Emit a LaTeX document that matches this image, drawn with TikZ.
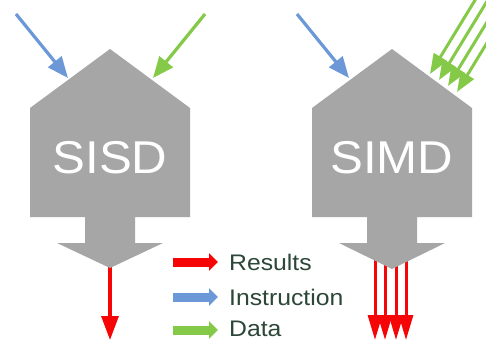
\documentclass[tikz,border=0pt]{standalone}
\usepackage{fontspec}
\setmainfont{Liberation Sans}
\usetikzlibrary{arrows.meta}
\definecolor{boxgray}{RGB}{166,166,166}
\definecolor{arrred}{RGB}{245,5,5}
\definecolor{arrblue}{RGB}{108,152,216}
\definecolor{arrgreen}{RGB}{132,202,72}
\definecolor{legtext}{RGB}{44,70,56}
\begin{document}
\begin{tikzpicture}[x=1pt,y=-1pt,
  proc/.style={fill=boxgray,draw=none},
  thin arrow/.style={line width=3.2pt,-{Triangle[width=17pt,length=21pt]}},
  out arrow/.style={line width=3.2pt,arrred,-{Triangle[width=17pt,length=24pt]}},
  multi out/.style={line width=3pt,arrred,-{Triangle[width=14pt,length=25pt]}},
  multi in/.style={line width=3pt,arrgreen,-{Triangle[width=15pt,length=20pt]}},
  leg arrow/.style={line width=9pt,-{Triangle[width=17pt,length=9pt]}},
  leg text/.style={text=legtext,font=\fontsize{22.5}{22.5}\selectfont,anchor=base west,inner sep=0pt},
  big label/.style={text=white,font=\fontsize{46}{46}\selectfont,inner sep=0pt}]
\useasboundingbox (0,0) rectangle (486,342);
\fill[white] (0,0) rectangle (486,342);
\begin{scope}
\clip (0,0) rectangle (486,342);
% red output arrows (drawn below the gray shapes)
\coordinate (r0a) at (110,255); \coordinate (r0b) at (110,340);
\draw[out arrow] (r0a) -- (r0b);
\foreach \x [count=\i] in {375,385,396,406}{
  \coordinate (ra\i) at (\x,250); \coordinate (rb\i) at (\x,340);
  \draw[multi out] (ra\i) -- (rb\i);
}
% SISD shape
\fill[proc] (110,49) -- (190,108) -- (190,217) -- (135,217) -- (135,243) -- (163,243)
  -- (110,268) -- (57,243) -- (85,243) -- (85,217) -- (30,217) -- (30,108) -- cycle;
% SIMD shape
\fill[proc] (392,49) -- (472,108) -- (472,217) -- (417,217) -- (417,243) -- (445,243)
  -- (392,269) -- (339,243) -- (367,243) -- (367,217) -- (312,217) -- (312,108) -- cycle;
\node[big label] (sisd) at (110,158) {\scalebox{1.07}[1]{SISD}};
\node[big label] (simd) at (392,158) {\scalebox{1.07}[1]{SIMD}};
% input arrows
\coordinate (b1s) at (16,14); \coordinate (b1e) at (68,78);
\draw[thin arrow,arrblue] (b1s) -- (b1e);
\coordinate (g1s) at (205,14); \coordinate (g1e) at (153,78);
\draw[thin arrow,arrgreen] (g1s) -- (g1e);
\coordinate (b2s) at (297,14); \coordinate (b2e) at (349,78);
\draw[thin arrow,arrblue] (b2s) -- (b2e);
\foreach \tx/\ty [count=\i] in {430/74,439/80,448/86,457/92}{
  \coordinate (ge\i) at (\tx,\ty);
  \coordinate (gs\i) at (\tx+50,\ty-82);
  \draw[multi in] (gs\i) -- (ge\i);
}
\end{scope}
% legend
\coordinate (l1a) at (173,262); \coordinate (l1b) at (218,262);
\draw[leg arrow,arrred] (l1a) -- (l1b);
\coordinate (l2a) at (173,297); \coordinate (l2b) at (218,297);
\draw[leg arrow,arrblue] (l2a) -- (l2b);
\coordinate (l3a) at (173,330); \coordinate (l3b) at (218,330);
\draw[leg arrow,arrgreen] (l3a) -- (l3b);
\node[leg text] (tres) at (229,270) {\scalebox{1.1}[1]{Results}};
\node[leg text] (tins) at (229,305) {\scalebox{1.1}[1]{Instruction}};
\node[leg text] (tdat) at (229,336) {\scalebox{1.1}[1]{Data}};
\end{tikzpicture}
\end{document}
